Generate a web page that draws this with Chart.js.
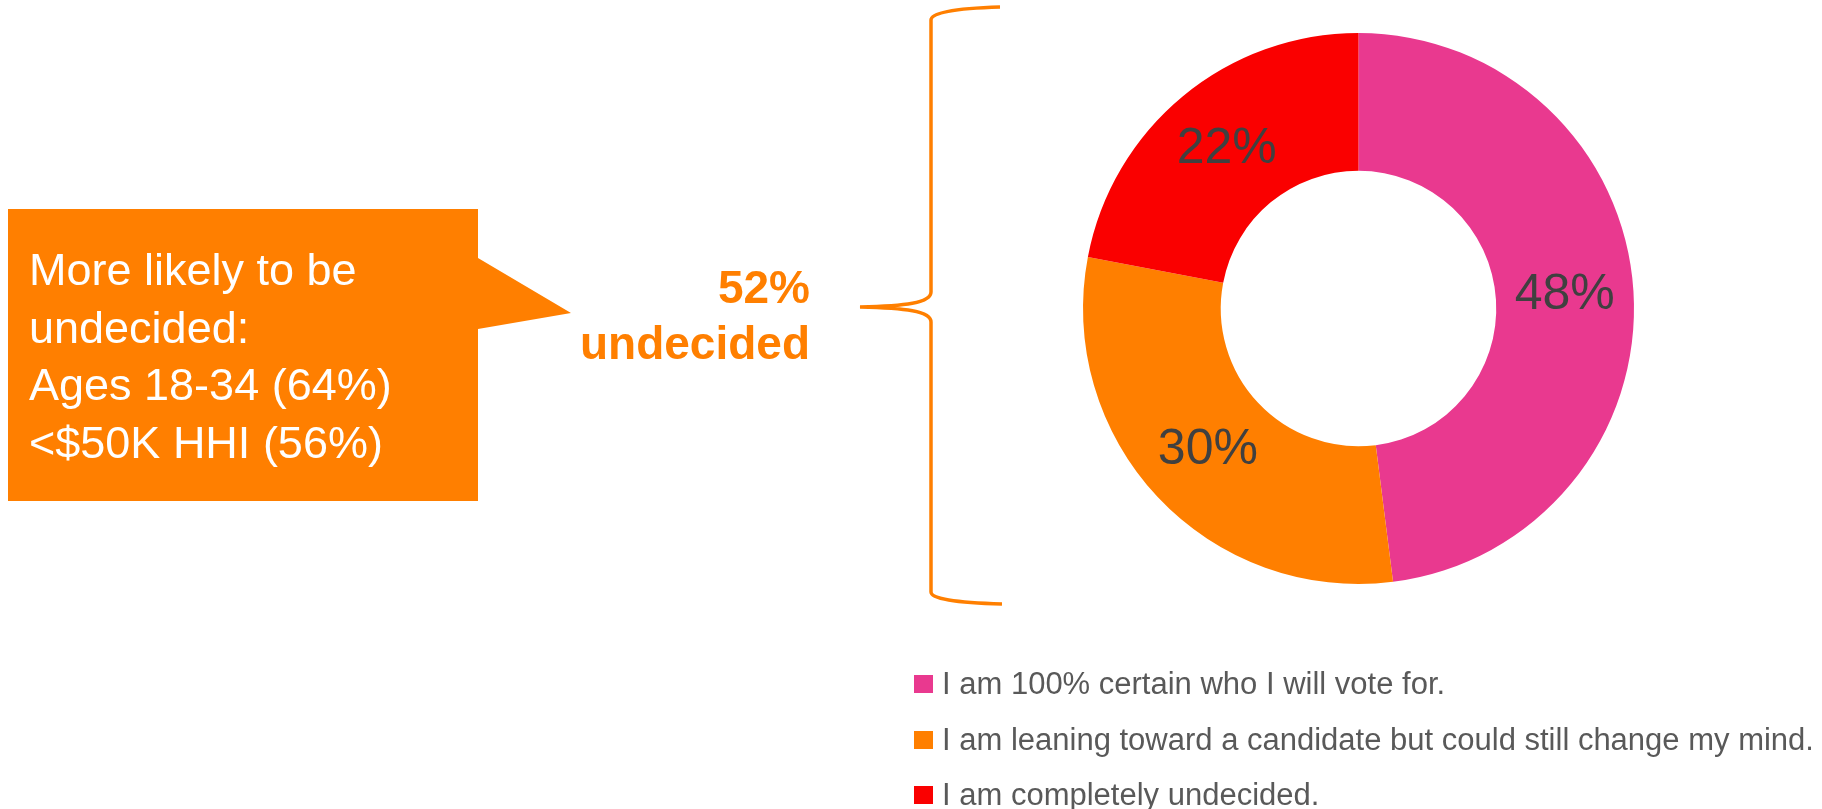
<!DOCTYPE html>
<html>
<head>
<meta charset="utf-8">
<script src="https://cdn.jsdelivr.net/npm/chart.js@4.4.1/dist/chart.umd.min.js"></script>
<style>
  html, body { margin: 0; padding: 0; background: #ffffff; overflow: hidden; }
  #wrap { width: 1822px; height: 809px; position: relative; }
  canvas { display: block; }
</style>
</head>
<body>
<div id="wrap"><canvas id="c" width="1822" height="809"></canvas></div>
<script>
// ---- Data ----
const categories = [
  'I am 100% certain who I will vote for.',
  'I am leaning toward a candidate but could still change my mind.',
  'I am completely undecided.'
];
const shares = [48, 30, 22];
const sliceColors = ['#E9398F', '#FF7F00', '#FA0000'];
const calloutLines = ['More likely to be', 'undecided:', 'Ages 18-34 (64%)', '<$50K HHI (56%)'];
const bracketLabel = ['52%', 'undecided'];

const FONT = '"Liberation Sans", Arial, sans-serif';
const ORANGE = '#FF7F00';

// Percentage labels on each slice
const sliceLabels = {
  id: 'sliceLabels',
  afterDatasetsDraw(chart) {
    const ctx = chart.ctx;
    const meta = chart.getDatasetMeta(0);
    const vals = chart.data.datasets[0].data;
    ctx.save();
    ctx.font = '50px ' + FONT;
    ctx.fillStyle = '#404040';
    ctx.textAlign = 'center';
    ctx.textBaseline = 'middle';
    meta.data.forEach((arc, i) => {
      const p = arc.tooltipPosition();
      ctx.fillText(vals[i] + '%', p.x, p.y);
    });
    ctx.restore();
  }
};

// Callout, bracket, and legend
const decorations = {
  id: 'decorations',
  afterDraw(chart) {
    const ctx = chart.ctx;
    ctx.save();

    // Callout box with pointer
    ctx.fillStyle = ORANGE;
    ctx.beginPath();
    ctx.moveTo(8, 209);
    ctx.lineTo(478, 209);
    ctx.lineTo(478, 258);
    ctx.lineTo(571, 313);
    ctx.lineTo(478, 329);
    ctx.lineTo(478, 501);
    ctx.lineTo(8, 501);
    ctx.closePath();
    ctx.fill();

    ctx.fillStyle = '#ffffff';
    ctx.font = '45px ' + FONT;
    ctx.textAlign = 'left';
    ctx.textBaseline = 'alphabetic';
    const baselines = [285, 343, 400, 458];
    calloutLines.forEach((t, i) => ctx.fillText(t, 29, baselines[i]));

    // "52% undecided"
    ctx.fillStyle = ORANGE;
    ctx.font = 'bold 46px ' + FONT;
    ctx.textAlign = 'right';
    ctx.fillText(bracketLabel[0], 810, 303);
    ctx.fillText(bracketLabel[1], 810, 359);

    // Bracket
    ctx.strokeStyle = ORANGE;
    ctx.lineWidth = 3.5;
    ctx.lineCap = 'butt';
    ctx.beginPath();
    ctx.moveTo(1000, 7);
    ctx.quadraticCurveTo(931, 9, 931, 20);
    ctx.lineTo(931, 292);
    ctx.bezierCurveTo(931, 303, 905, 306, 860, 307);
    ctx.bezierCurveTo(905, 308, 931, 311, 931, 322);
    ctx.lineTo(931, 592);
    ctx.quadraticCurveTo(931, 602, 1002, 604);
    ctx.stroke();

    // Legend
    const colors = chart.data.datasets[0].backgroundColor;
    const rows = [684, 740, 795];
    ctx.font = '31px ' + FONT;
    ctx.textAlign = 'left';
    ctx.textBaseline = 'middle';
    chart.data.labels.forEach((lab, i) => {
      ctx.fillStyle = colors[i];
      ctx.fillRect(914, rows[i] - 9, 19, 18);
      ctx.fillStyle = '#595959';
      ctx.fillText(lab, 942, rows[i] + 1);
    });

    ctx.restore();
  }
};

new Chart(document.getElementById('c'), {
  type: 'doughnut',
  data: {
    labels: categories,
    datasets: [{
      data: shares,
      backgroundColor: sliceColors,
      borderWidth: 0,
      hoverOffset: 0,
      offset: 0
    }]
  },
  options: {
    responsive: false,
    animation: false,
    devicePixelRatio: 1,
    events: [],
    cutout: '50%',
    layout: { padding: { left: 1083, right: 188, top: 33, bottom: 225 } },
    plugins: {
      legend: { display: false },
      tooltip: { enabled: false },
      title: { display: false }
    }
  },
  plugins: [sliceLabels, decorations]
});
</script>
</body>
</html>
